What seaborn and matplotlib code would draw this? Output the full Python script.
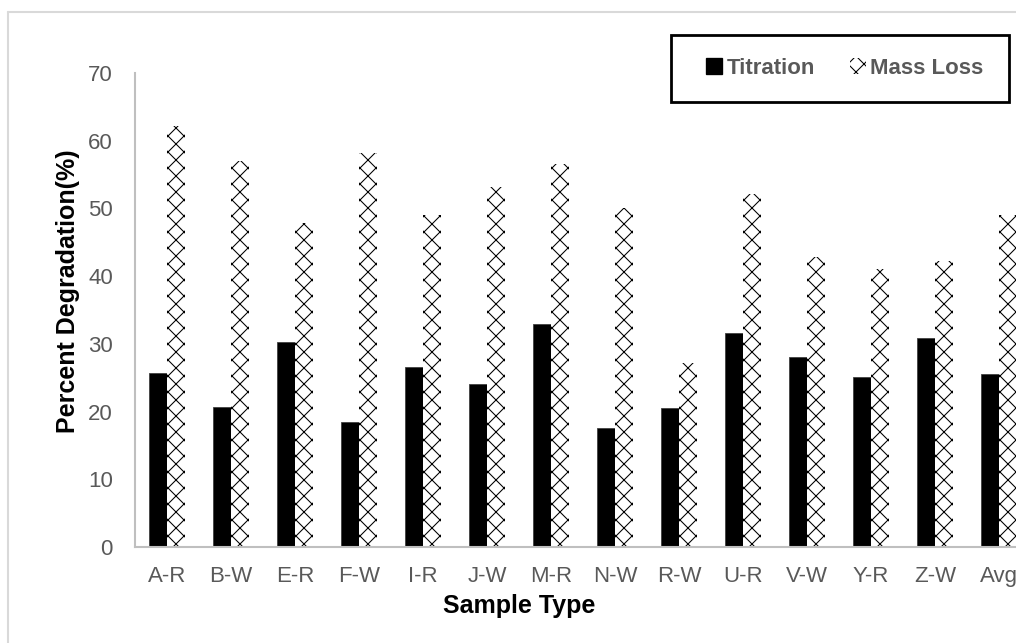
import matplotlib
matplotlib.use("Agg")
import matplotlib.pyplot as plt
import seaborn as sns
import pandas as pd
from matplotlib.patches import Patch, Rectangle
from matplotlib.lines import Line2D

samples = ["A-R", "B-W", "E-R", "F-W", "I-R", "J-W", "M-R", "N-W", "R-W",
           "U-R", "V-W", "Y-R", "Z-W", "Avg"]
titration = [25.7, 20.7, 30.3, 18.5, 26.6, 24.0, 33.0, 17.6, 20.6,
             31.6, 28.1, 25.1, 30.8, 25.6]
mass_loss = [62.1, 57.0, 47.9, 58.2, 49.1, 53.1, 56.5, 50.1, 27.2,
             52.1, 42.9, 41.0, 42.3, 49.1]
series = ["Titration", "Mass Loss"]
y_ticks = [0, 10, 20, 30, 40, 50, 60, 70]

df = pd.DataFrame({
    "Sample": samples * 2,
    "Value": titration + mass_loss,
    "Method": [series[0]] * len(samples) + [series[1]] * len(samples),
})

DPI = 96
k = 100 / DPI  # keep pixel sizes as designed for 100 dpi
W, H = 1016, 643

sns.set_theme(style="white")
plt.rcParams["font.family"] = ["Liberation Sans", "DejaVu Sans"]
plt.rcParams["hatch.linewidth"] = 0.8

fig = plt.figure(figsize=(W / DPI, H / DPI), dpi=DPI)
ax = fig.add_axes([135 / W, 1 - 547 / H, 896 / W, (547 - 73) / H])

sns.barplot(data=df, x="Sample", y="Value", hue="Method", order=samples,
            hue_order=series, palette=["black", "white"], width=0.5625,
            gap=0, ax=ax, legend=False, saturation=1)

for p in ax.containers[0]:
    p.set_edgecolor("#404040")
    p.set_linewidth(0.6 * k)
for p in ax.containers[1]:
    p.set_hatch("xx")
    p.set_edgecolor("black")
    p.set_facecolor("white")
    p.set_linewidth(0)

ax.set_ylim(0, 70)
ax.set_xlim(-0.5, len(samples) - 0.5)
ax.set_yticks(y_ticks)
ax.set_yticklabels([str(v) for v in y_ticks])
ax.tick_params(axis="y", length=0, pad=16 * k, labelsize=16 * k, labelcolor="#595959")
ax.tick_params(axis="x", length=0, pad=14 * k, labelsize=16 * k, labelcolor="#595959")

for s in ["top", "right"]:
    ax.spines[s].set_visible(False)
for s in ["left", "bottom"]:
    ax.spines[s].set_color("#bfbfbf")
    ax.spines[s].set_linewidth(1.5 * k)

ax.set_ylabel("Percent Degradation(%)", fontsize=18 * k, fontweight="bold", color="black")
ax.set_xlabel("Sample Type", fontsize=18 * k, fontweight="bold", color="black")
ax.yaxis.set_label_coords((80 - 135) / 896, (547 - 291) / 474)
ax.xaxis.set_label_coords((519 - 135) / 896, (547 - 594) / 474)

# outer chart border (left & top visible, rest cropped)
fig.add_artist(Line2D([8 / W, 8 / W], [0, 1 - 12 / H], color="#d9d9d9", lw=1.5 * k,
                      transform=fig.transFigure))
fig.add_artist(Line2D([8 / W, 1], [1 - 12 / H, 1 - 12 / H], color="#d9d9d9", lw=1.5 * k,
                      transform=fig.transFigure))

# legend box
fig.add_artist(Rectangle((671 / W, 1 - 102 / H), (1009 - 671) / W, (102 - 35) / H,
                         transform=fig.transFigure, fill=False, edgecolor="black",
                         lw=2 * k))
handles = [Patch(facecolor="black", edgecolor="black", label=series[0]),
           Patch(facecolor="white", edgecolor="black", hatch="xx", lw=0, label=series[1])]
leg = fig.legend(handles=handles, loc="center", ncol=2,
                 bbox_to_anchor=(845 / W, 1 - 68 / H), frameon=False,
                 prop={"size": 16 * k, "weight": "bold"}, handlelength=0.7,
                 handleheight=0.7, handletextpad=0.2, columnspacing=1.6)
for t in leg.get_texts():
    t.set_color("#595959")

fig.savefig("out.png", dpi=DPI)
